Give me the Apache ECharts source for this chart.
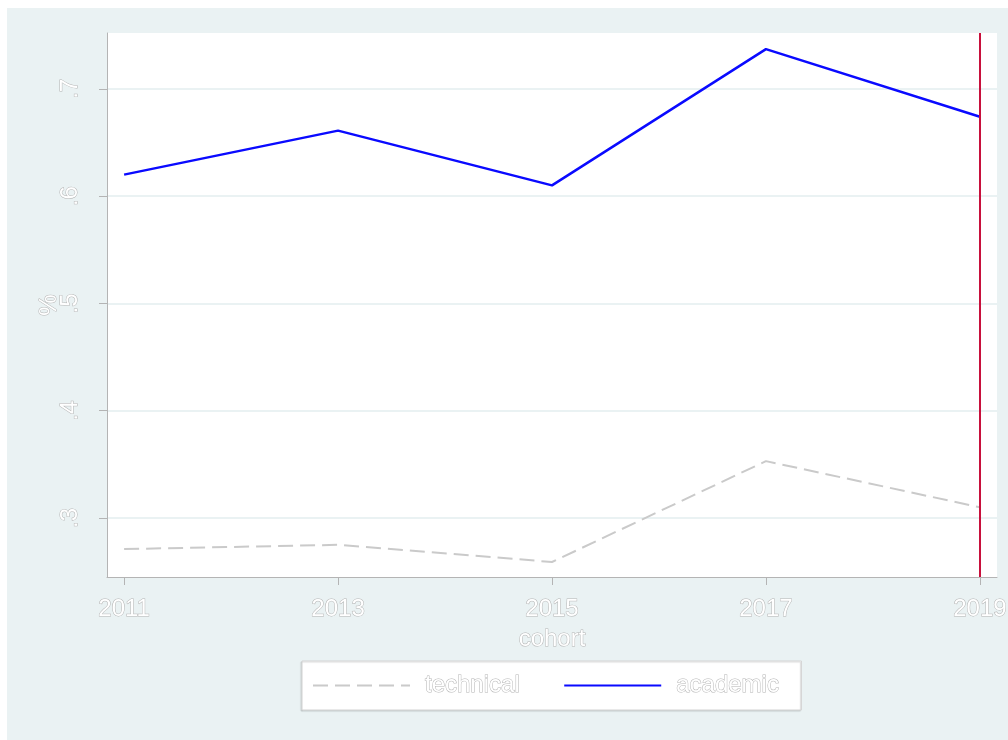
<!DOCTYPE html>
<html>
<head>
<meta charset="utf-8">
<script src="https://cdn.jsdelivr.net/npm/echarts@6/dist/echarts.min.js"></script>
<style>
  html, body { margin: 0; padding: 0; background: #fff; }
  #chart { position: absolute; left: 7px; top: 8px; width: 1001px; height: 732px; }
</style>
</head>
<body>
<div id="chart"></div>
<script>
// cohorts and shares
const cohorts = [2011, 2013, 2015, 2017, 2019];
const technical = [0.271, 0.275, 0.259, 0.353, 0.310];
const academic = [0.620, 0.661, 0.610, 0.737, 0.674];
const yTicks = [0.3, 0.4, 0.5, 0.6, 0.7];
const cutoffYear = 2019;

const outline = { color: '#fff', textBorderColor: '#b4b4b4', textBorderWidth: 1, fontFamily: 'Liberation Sans', fontSize: 24 };

const myChart = echarts.init(document.getElementById('chart'));
myChart.setOption({
  backgroundColor: '#eaf2f3',
  animation: false,
  grid: {
    left: 100, right: 11, top: 25, bottom: 163,
    outerBoundsMode: 'none',
    show: true, backgroundColor: '#fff', borderWidth: 0
  },
  legend: {
    left: 295, top: 653,
    padding: [12, 22, 12, 10],
    backgroundColor: '#fff',
    borderColor: '#d4d4d4', borderWidth: 1,
    shadowColor: 'rgba(0,0,0,0.15)', shadowOffsetX: -1, shadowOffsetY: 1, shadowBlur: 1,
    itemWidth: 97, itemHeight: 20, itemGap: 43,
    itemStyle: { opacity: 0 },
    textStyle: Object.assign({}, outline, { padding: [0, 0, 0, 10] }),
    data: ['technical', 'academic']
  },
  xAxis: {
    type: 'value',
    min: 2010.84, max: 2019.16,
    name: 'cohort', nameLocation: 'middle', nameGap: 46,
    nameTextStyle: outline,
    axisLine: { lineStyle: { color: '#b4b4b4', width: 1 } },
    axisTick: { show: true, length: 8, customValues: cohorts, lineStyle: { color: '#b4b4b4' } },
    axisLabel: Object.assign({ customValues: cohorts, margin: 20, formatter: v => String(v) }, outline),
    splitLine: { show: false }
  },
  yAxis: {
    type: 'value',
    min: 0.245, max: 0.752,
    name: '%', nameLocation: 'middle', nameGap: 46, nameRotate: 90, nameMoveOverlap: false,
    nameTextStyle: outline,
    axisLine: { show: true, lineStyle: { color: '#b4b4b4', width: 1 } },
    axisTick: { show: true, length: 8, customValues: yTicks, lineStyle: { color: '#b4b4b4' } },
    axisLabel: Object.assign({
      customValues: yTicks, rotate: 90, margin: 25,
      formatter: v => String(Math.round(v * 10) / 10).replace(/^0/, '')
    }, outline),
    splitLine: { show: true, lineStyle: { color: '#eaf2f3', width: 2 } }
  },
  series: [
    {
      name: 'technical',
      type: 'line',
      symbol: 'none',
      data: cohorts.map((c, i) => [c, technical[i]]),
      lineStyle: { color: '#cacaca', width: 2, type: [15, 7] },
      itemStyle: { color: '#cacaca' }
    },
    {
      name: 'academic',
      type: 'line',
      symbol: 'none',
      data: cohorts.map((c, i) => [c, academic[i]]),
      lineStyle: { color: '#0a0aff', width: 2.5 },
      itemStyle: { color: '#0a0aff' },
      markLine: {
        silent: true,
        symbol: 'none',
        label: { show: false },
        lineStyle: { color: '#c8103c', width: 2, type: 'solid' },
        data: [{ xAxis: cutoffYear }]
      }
    }
  ]
});
</script>
</body>
</html>
